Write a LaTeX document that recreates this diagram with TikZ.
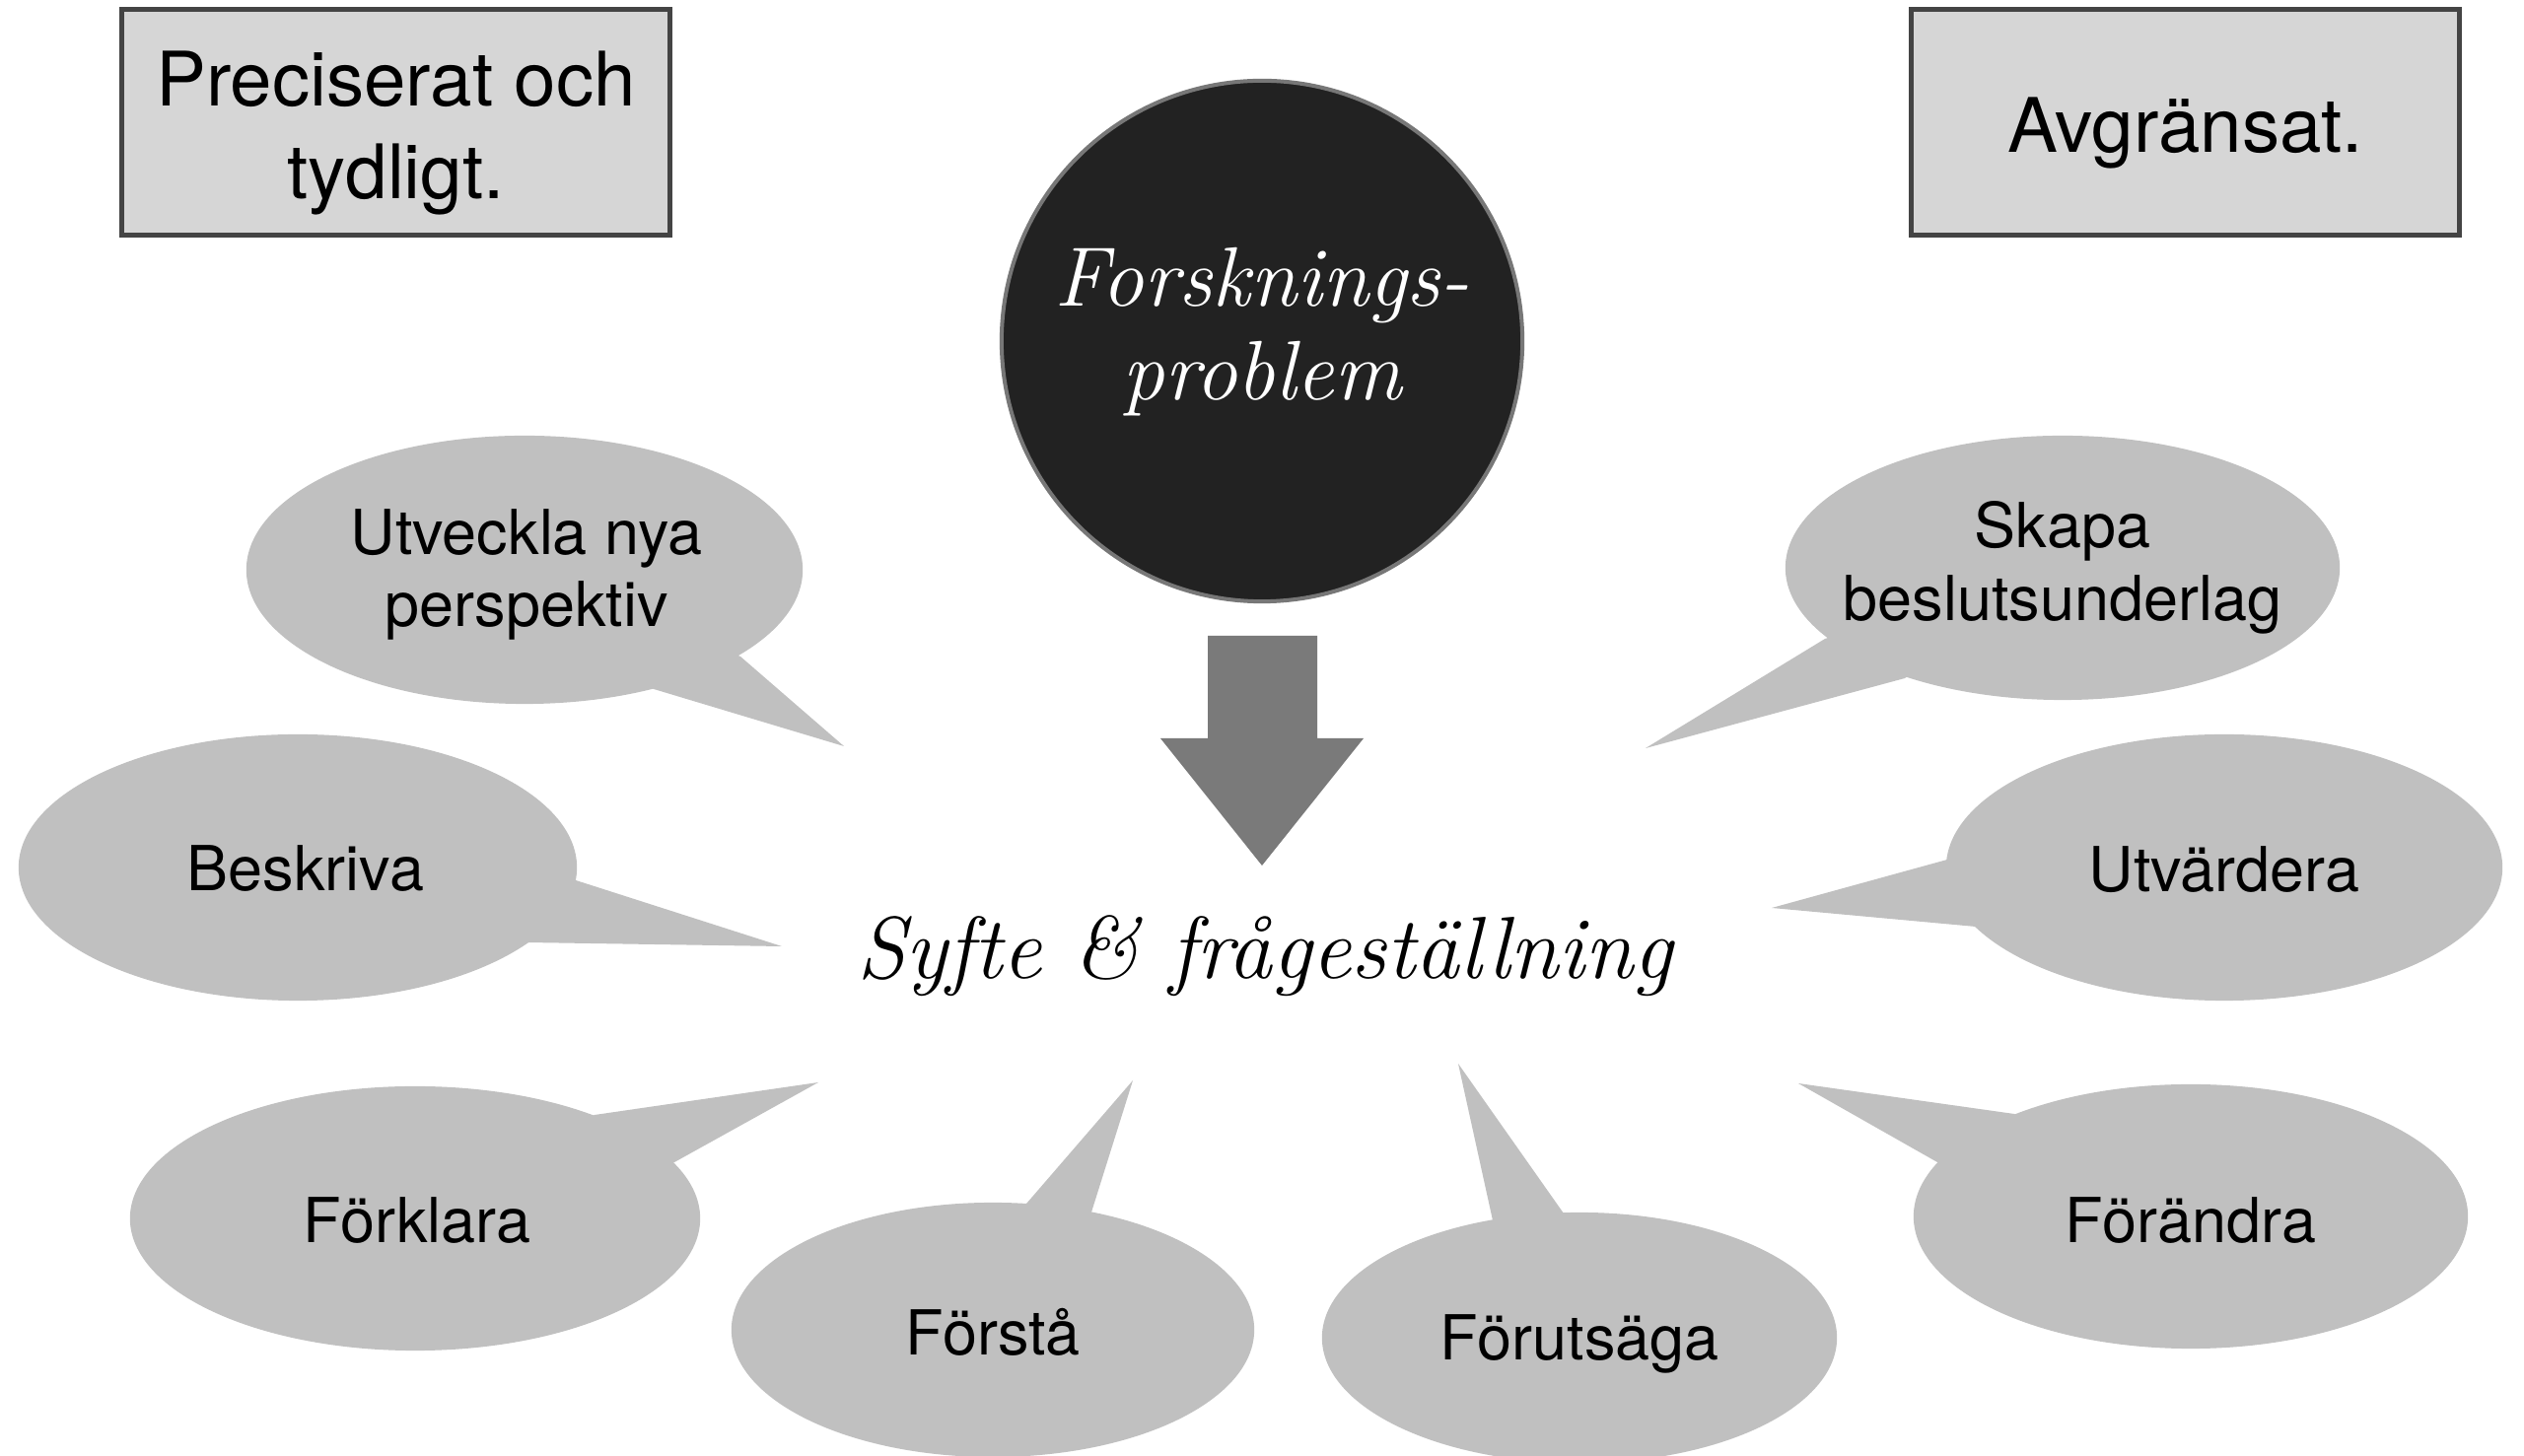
\documentclass[tikz,border=0pt]{standalone}
\usepackage{fontspec}
\setsansfont{TeX Gyre Heros}
\usetikzlibrary{shapes.geometric}
\definecolor{boxfill}{HTML}{D6D6D6}
\definecolor{boxline}{HTML}{444444}
\definecolor{bubblegray}{HTML}{C0C0C0}
\definecolor{arrowgray}{HTML}{7A7A7A}
\definecolor{circfill}{HTML}{222222}
\definecolor{circline}{HTML}{777777}
\begin{document}
\begin{tikzpicture}[x=0.01cm,y=-0.01cm,
  topbox/.style={draw=boxline,fill=boxfill,line width=0.05cm,inner sep=0pt,
    minimum width=5.55cm,minimum height=2.28cm},
  toptext/.style={font=\sffamily\fontsize{21.7}{27}\selectfont,align=center,inner sep=0pt},
  bubble/.style={ellipse,fill=bubblegray,draw=none,inner sep=0pt},
  ptr/.style={fill=bubblegray,draw=none},
  btext/.style={font=\sffamily\fontsize{17.9}{21}\selectfont,align=center,inner sep=0pt},
  serift/.style={font=\itshape\fontsize{24.3}{27}\selectfont,align=center,inner sep=0pt}]
\useasboundingbox (0,0) rectangle (2560,1477);
\fill[white] (0,0) rectangle (2560,1477);

% top boxes
\node[topbox] (boxL) at (401.5,124) {};
\node[toptext,anchor=center] (txtL) at (401.5,135) {Preciserat och\\tydligt.};
\node[topbox] (boxR) at (2216.5,124) {};
\node[toptext,anchor=base] (txtR) at (2216.5,155) {Avgränsat.};

% central circle
\node[circle,fill=circfill,draw=circline,line width=0.04cm,minimum size=5.28cm,inner sep=0pt] (prob) at (1280,346) {};
\node[serift,text=white,anchor=center] (probtxt) at (1280,337) {Forsknings-\\problem};

% block arrow
\fill[arrowgray] (1225,645) -- (1336,645) -- (1336,749) -- (1383,749) -- (1280,878)
  -- (1177,749) -- (1225,749) -- cycle;

% syfte
\node[font=\itshape\fontsize{25.4}{30}\selectfont,inner sep=0pt,anchor=base] (syfte) at (1283,993) {Syfte \& frågeställning};

% pointer tips
\coordinate (tip1) at (856,757);
\coordinate (tip2) at (793,960);
\coordinate (tip3) at (830,1098);
\coordinate (tip4) at (1149,1096);
\coordinate (tip5) at (1479,1079);
\coordinate (tip6) at (1824,1099);
\coordinate (tip7) at (1797,921);
\coordinate (tip8) at (1669,759);

% bubble centres
\coordinate (c1) at (532,578);
\coordinate (c2) at (302,880);
\coordinate (c3) at (421,1236);
\coordinate (c4) at (1007,1349);
\coordinate (c5) at (1602,1357);
\coordinate (c6) at (2222,1234);
\coordinate (c7) at (2256,880);
\coordinate (c8) at (2092,576);

\fill[ptr] (c1) -- (663,699) -- (tip1) -- (751,666) -- cycle;
\fill[ptr] (c2) -- (584,893) -- (tip2) -- (534,956) -- cycle;
\fill[ptr] (c3) -- (603,1131) -- (tip3) -- (684,1179) -- cycle;
\fill[ptr] (c4) -- (1035,1228) -- (tip4) -- (1105,1236) -- cycle;
\fill[ptr] (c5) -- (1514,1238) -- (tip5) -- (1586,1231) -- cycle;
\fill[ptr] (c6) -- (2043,1130) -- (tip6) -- (1965,1179) -- cycle;
\fill[ptr] (c7) -- (1975,872) -- (tip7) -- (2004,940) -- cycle;
\fill[ptr] (c8) -- (1851,648) -- (tip8) -- (1932,688) -- cycle;

\node[bubble,minimum width=5.64cm,minimum height=2.72cm] (b1) at (c1) {};
\node[bubble,minimum width=5.66cm,minimum height=2.70cm] (b2) at (c2) {};
\node[bubble,minimum width=5.78cm,minimum height=2.68cm] (b3) at (c3) {};
\node[bubble,minimum width=5.30cm,minimum height=2.58cm] (b4) at (c4) {};
\node[bubble,minimum width=5.22cm,minimum height=2.54cm] (b5) at (c5) {};
\node[bubble,minimum width=5.62cm,minimum height=2.68cm] (b6) at (c6) {};
\node[bubble,minimum width=5.64cm,minimum height=2.70cm] (b7) at (c7) {};
\node[bubble,minimum width=5.62cm,minimum height=2.68cm] (b8) at (c8) {};

% bubble texts
\node[btext,anchor=center] (t1) at (534,583) {Utveckla nya\\perspektiv};
\node[btext,anchor=base] (t2) at (310,904) {Beskriva};
\node[btext,anchor=base] (t3) at (423,1261) {Förklara};
\node[btext,anchor=base] (t4) at (1007,1375) {Förstå};
\node[btext,anchor=base] (t5) at (1602,1380) {Förutsäga};
\node[btext,anchor=base] (t6) at (2222,1261) {Förändra};
\node[btext,anchor=base] (t7) at (2256,905) {Utvärdera};
\node[btext,anchor=center] (t8) at (2092,576) {Skapa\\beslutsunderlag};
\end{tikzpicture}
\end{document}
